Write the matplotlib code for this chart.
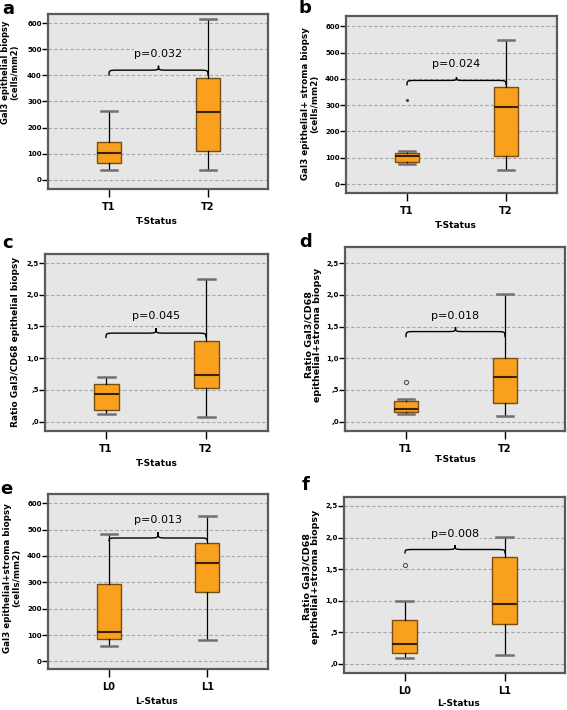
import matplotlib
matplotlib.use("Agg")
import matplotlib.pyplot as plt
from matplotlib.path import Path
from matplotlib.patches import PathPatch

# ---------------- data ----------------
t_groups = ["T1", "T2"]
l_groups = ["L0", "L1"]

cells_ticks = [0, 100, 200, 300, 400, 500, 600]
cells_ticklabels = ["0", "100", "200", "300", "400", "500", "600"]
ratio_ticks = [0.0, 0.5, 1.0, 1.5, 2.0, 2.5]
ratio_ticklabels = [",0", ",5", "1,0", "1,5", "2,0", "2,5"]

# panel a
a_whislo = [37, 37]
a_q1 = [63, 110]
a_med = [103, 258]
a_q3 = [145, 390]
a_whishi = [263, 614]
a_fliers = [[], []]
a_p = "p=0.032"
a_brace = [399, 420, 437]
a_ptext_y = 482

# panel b
b_whislo = [77, 54]
b_q1 = [84, 105]
b_med = [108, 292]
b_q3 = [117, 368]
b_whishi = [125, 548]
b_fliers = [[320], []]
b_p = "p=0.024"
b_brace = [375, 394, 406]
b_ptext_y = 457

# panel c
c_whislo = [0.126, 0.068]
c_q1 = [0.184, 0.537]
c_med = [0.437, 0.742]
c_q3 = [0.595, 1.274]
c_whishi = [0.71, 2.253]
c_fliers = [[], []]
c_p = "p=0.045"
c_brace = [1.316, 1.395, 1.474]
c_ptext_y = 1.668

# panel d
d_whislo = [0.126, 0.095]
d_q1 = [0.147, 0.30]
d_med = [0.20, 0.71]
d_q3 = [0.33, 1.00]
d_whishi = [0.35, 2.01]
d_fliers = [[0.626], []]
d_p = "p=0.018"
d_brace = [1.33, 1.42, 1.49]
d_ptext_y = 1.668

# panel e
e_whislo = [59, 80]
e_q1 = [86, 263]
e_med = [113, 372]
e_q3 = [295, 449]
e_whishi = [484, 551]
e_fliers = [[], []]
e_p = "p=0.013"
e_brace = [456, 468, 490]
e_ptext_y = 535

# panel f
f_whislo = [0.084, 0.132]
f_q1 = [0.174, 0.626]
f_med = [0.31, 0.953]
f_q3 = [0.70, 1.695]
f_whishi = [0.995, 2.005]
f_fliers = [[1.568], []]
f_p = "p=0.008"
f_brace = [1.747, 1.81, 1.879]
f_ptext_y = 2.05

# ---------------- style ----------------
W, H = 567, 710
BG = "#e6e6e6"
ORANGE = "#f9a01e"
BOX_EDGE = "#7a4e12"
MED = "#3a2200"
CAP = "#707070"
FRAME = "#5a5a5a"
GRID = "#a6a6a6"

fig = plt.figure(figsize=(W / 100, H / 100), dpi=100)
fig.patch.set_facecolor("white")


def fx(px):
    return px / W


def fy(py):
    return 1 - py / H


def draw_panel(box_px, xlim, ylim, groups, whislo, q1, med, q3, whishi, fliers,
               ticks, ticklabels, ptext, brace, ptext_y, letter, letter_px,
               ylabel, ylabel_px, ylabel_kw, xlabel, xlabel_px, outlier_style):
    x0, y0, x1, y1 = box_px
    ax = fig.add_axes([fx(x0), fy(y1), (x1 - x0) / W, (y1 - y0) / H])
    ax.set_facecolor(BG)
    stats = []
    for i, g in enumerate(groups):
        stats.append(dict(label=g, whislo=whislo[i], q1=q1[i], med=med[i],
                          q3=q3[i], whishi=whishi[i], fliers=fliers[i]))
    ax.yaxis.grid(True, linestyle=(0, (3, 2)), color=GRID, linewidth=0.8)
    ax.set_axisbelow(True)
    ax.bxp(stats, positions=[1, 2], widths=0.25, capwidths=0.17,
           patch_artist=True, showfliers=True,
           boxprops=dict(facecolor=ORANGE, edgecolor=BOX_EDGE, linewidth=1.0),
           medianprops=dict(color=MED, linewidth=1.5),
           whiskerprops=dict(color="black", linewidth=0.9),
           capprops=dict(color=CAP, linewidth=1.8),
           flierprops=outlier_style)
    ax.set_xlim(*xlim)
    ax.set_ylim(*ylim)
    ax.set_yticks(ticks)
    ax.set_yticklabels(ticklabels, fontsize=5, fontweight="bold")
    ax.set_xticks([1, 2])
    ax.set_xticklabels(groups, fontsize=7, fontweight="bold")
    ax.tick_params(axis="y", length=4, width=1, color="black", pad=0.5)
    ax.tick_params(axis="x", length=6, width=1, color="black", pad=3)
    for s in ax.spines.values():
        s.set_color(FRAME)
        s.set_linewidth(1.6)

    # curly brace
    xa, xb = 1.0, 2.0
    xm = (xa + xb) / 2
    r = 0.1
    yend, yflat, ytop = brace
    verts = [(xa, yend), (xa, yflat), (xa, yflat), (xa + r, yflat),
             (xm - r, yflat), (xm, yflat), (xm, yflat), (xm, ytop),
             (xm, ytop), (xm, yflat), (xm, yflat), (xm + r, yflat),
             (xb - r, yflat), (xb, yflat), (xb, yflat), (xb, yend)]
    codes = [Path.MOVETO, Path.CURVE4, Path.CURVE4, Path.CURVE4,
             Path.LINETO, Path.CURVE4, Path.CURVE4, Path.CURVE4,
             Path.MOVETO, Path.CURVE4, Path.CURVE4, Path.CURVE4,
             Path.LINETO, Path.CURVE4, Path.CURVE4, Path.CURVE4]
    ax.add_patch(PathPatch(Path(verts, codes), facecolor="none",
                           edgecolor="black", linewidth=1.0, zorder=5))
    ax.text(xm, ptext_y, ptext, ha="center", va="center", fontsize=8,
            zorder=6, bbox=dict(facecolor=BG, edgecolor="none", pad=0.5))

    fig.text(fx(letter_px[0]), fy(letter_px[1]), letter, ha="center",
             va="center", fontsize=13, fontweight="bold")
    fig.text(fx(ylabel_px[0]), fy(ylabel_px[1]), ylabel, rotation=90,
             ha="center", va="center", multialignment="center",
             fontweight="bold", linespacing=1.0, **ylabel_kw)
    fig.text(fx(xlabel_px[0]), fy(xlabel_px[1]), xlabel, ha="center",
             va="center", fontsize=6.5, fontweight="bold")
    return ax


no_out = dict(marker="o", markersize=0)
dot_out = dict(marker=".", markersize=2.5, markerfacecolor="#444",
               markeredgecolor="#444", linestyle="none")
circ_out = dict(marker="o", markersize=3, markerfacecolor="none",
                markeredgecolor="#555", markeredgewidth=0.8, linestyle="none")

narrow = dict(fontsize=6.0, family=["Liberation Sans Narrow", "DejaVu Sans"])
lab_b = dict(fontsize=6.3)
lab_c = dict(fontsize=6.5)
lab_d = dict(fontsize=6.8)

draw_panel([48, 14, 268, 189], (0.384, 2.606), (-35, 635), t_groups,
           a_whislo, a_q1, a_med, a_q3, a_whishi, a_fliers,
           cells_ticks, cells_ticklabels, a_p, a_brace, a_ptext_y,
           "a", (8, 9), "Gal3 epithelial biopsy\n(cells/mm2)", (10, 72), narrow,
           "T-Status", (157, 222), no_out)

draw_panel([346, 16, 557, 193], (0.384, 2.515), (-34, 639), t_groups,
           b_whislo, b_q1, b_med, b_q3, b_whishi, b_fliers,
           cells_ticks, cells_ticklabels, b_p, b_brace, b_ptext_y,
           "b", (305, 8), "Gal3 epithelial+ stroma biopsy\n(cells/mm2)", (310, 104),
           lab_b, "T-Status", (456, 226), dot_out)

draw_panel([45, 254, 268, 431], (0.39, 2.62), (-0.147, 2.642), t_groups,
           c_whislo, c_q1, c_med, c_q3, c_whishi, c_fliers,
           ratio_ticks, ratio_ticklabels, c_p, c_brace, c_ptext_y,
           "c", (8, 243), "Ratio Gal3/CD68 epithelial biopsy", (16, 342),
           lab_c, "T-Status", (157, 463), no_out)

draw_panel([345, 247, 565, 431], (0.384, 2.606), (-0.147, 2.753), t_groups,
           d_whislo, d_q1, d_med, d_q3, d_whishi, d_fliers,
           ratio_ticks, ratio_ticklabels, d_p, d_brace, d_ptext_y,
           "d", (306, 242), "Ratio Gal3/CD68\nepithelial+stroma biopsy", (313, 335),
           lab_d, "T-Status", (456, 460), circ_out)

draw_panel([48, 494, 268, 669], (0.378, 2.62), (-29, 635), l_groups,
           e_whislo, e_q1, e_med, e_q3, e_whishi, e_fliers,
           cells_ticks, cells_ticklabels, e_p, e_brace, e_ptext_y,
           "e", (6, 489), "Gal3 epithelial+stroma biopsy\n(cells/mm2)", (12, 578),
           lab_b, "L-Status", (157, 702), no_out)

draw_panel([344, 497, 565, 673], (0.39, 2.60), (-0.147, 2.642), l_groups,
           f_whislo, f_q1, f_med, f_q3, f_whishi, f_fliers,
           ratio_ticks, ratio_ticklabels, f_p, f_brace, f_ptext_y,
           "f", (306, 485), "Ratio Gal3/CD68\nepithelial+stroma biopsy", (311, 577),
           lab_d, "L-Status", (458, 704), circ_out)

fig.savefig("out.png", dpi=100, facecolor="white")
